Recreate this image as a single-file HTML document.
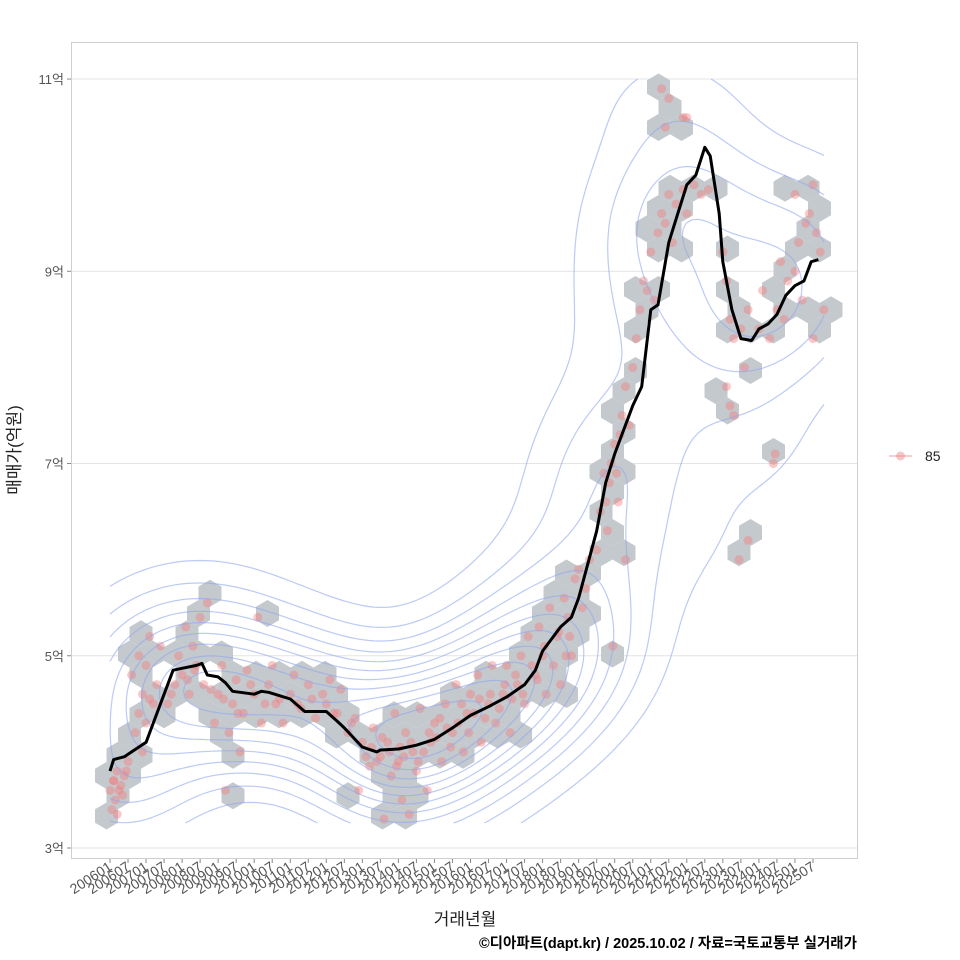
<!DOCTYPE html>
<html><head><meta charset="utf-8"><style>
body{margin:0;background:#fff;}
svg{display:block;font-family:"Liberation Sans","Noto Sans CJK KR",sans-serif;}
</style></head><body>
<svg id="chart" width="960" height="960" viewBox="0 0 960 960">
<defs><clipPath id="pclip"><rect x="72" y="43" width="785" height="815"/></clipPath></defs>
<rect x="0" y="0" width="960" height="960" fill="#fff"/>
<rect x="71.5" y="42.5" width="786" height="816" fill="#fff" stroke="#cfcfcf"/>
<g id="grid"></g>
<g id="hexes"></g>
<g id="pts"></g>
<g id="contours" clip-path="url(#pclip)"></g>
<g id="line"></g>
<g id="yaxis"></g>
<g id="xaxis"></g>
<text x="20" y="450" transform="rotate(-90 20 450)" text-anchor="middle" font-size="17" fill="#222">매매가(억원)</text>
<text x="465" y="925" text-anchor="middle" font-size="17" fill="#222">거래년월</text>
<text x="857" y="948" text-anchor="end" font-size="14.5" font-weight="bold" fill="#000">©디아파트(dapt.kr) / 2025.10.02 / 자료=국토교통부 실거래가</text>
<g>
<line x1="889" y1="456" x2="912" y2="456" stroke="#f4a0a8" stroke-width="1.5" opacity="0.7"/>
<circle cx="900.5" cy="456" r="4.5" fill="#f08080" fill-opacity="0.45"/>
<text x="925" y="461" font-size="14" fill="#222">85</text>
</g>
</svg>
<script>
const yTicks=[3,5,7,9,11];
const xTickYears=[];for(let y=2006;y<=2025;y++){xTickYears.push(y+'01');xTickYears.push(y+'07');}
const lineYears=[2006.0,2006.1,2006.4,2006.6,2007.0,2007.2,2007.5,2007.75,2008.0,2008.4,2008.55,2008.7,2009.0,2009.2,2009.4,2010.0,2010.2,2010.4,2011.0,2011.4,2012.0,2012.3,2012.5,2013.0,2013.4,2013.5,2014.0,2014.5,2015.0,2015.5,2016.0,2016.5,2017.0,2017.5,2017.8,2018.0,2018.5,2018.8,2019.0,2019.5,2019.75,2020.0,2020.5,2020.75,2021.0,2021.2,2021.5,2021.75,2022.0,2022.25,2022.5,2022.65,2022.9,2023.0,2023.25,2023.5,2023.8,2024.0,2024.25,2024.5,2024.75,2025.0,2025.25,2025.45,2025.65];
const lineValues=[3.8,3.92,3.95,4.0,4.1,4.3,4.6,4.85,4.87,4.9,4.92,4.8,4.78,4.72,4.63,4.6,4.63,4.62,4.55,4.42,4.42,4.32,4.25,4.05,4.0,4.02,4.03,4.07,4.13,4.25,4.38,4.47,4.57,4.7,4.85,5.05,5.3,5.4,5.6,6.3,6.8,7.1,7.6,7.8,8.6,8.65,9.3,9.6,9.9,10.0,10.29,10.2,9.6,9.1,8.6,8.3,8.28,8.4,8.45,8.55,8.75,8.85,8.9,9.1,9.12];
const ptYears=[2006.0,2006.05,2006.1,2006.15,2006.2,2006.3,2006.4,2006.5,2006.2,2006.35,2006.7,2006.8,2006.9,2007.0,2007.1,2006.6,2006.8,2007.0,2007.1,2007.3,2007.4,2006.9,2007.6,2007.8,2007.9,2008.0,2008.1,2008.2,2008.3,2008.4,2008.5,2008.6,2008.7,2009.2,2008.9,2009.0,2009.1,2009.3,2009.4,2009.5,2009.6,2009.7,2009.8,2010.0,2010.1,2010.2,2010.4,2010.5,2010.6,2010.8,2011.0,2011.1,2011.3,2011.5,2011.7,2011.9,2012.1,2012.2,2012.4,2012.6,2012.8,2012.9,2013.0,2013.2,2013.3,2013.5,2013.6,2013.7,2013.8,2013.9,2014.0,2014.1,2014.2,2014.3,2014.4,2014.5,2014.6,2014.8,2014.9,2015.0,2015.2,2015.3,2015.5,2015.6,2015.8,2015.9,2016.0,2016.2,2016.3,2016.5,2016.6,2016.7,2016.9,2017.0,2017.1,2017.3,2017.4,2017.5,2017.6,2017.8,2017.9,2018.0,2018.1,2018.2,2018.4,2018.5,2018.6,2018.7,2018.8,2018.9,2019.0,2019.1,2019.3,2019.95,2019.5,2019.6,2019.7,2019.8,2019.9,2020.0,2020.1,2020.2,2020.3,2020.3,2020.4,2020.5,2020.6,2020.7,2020.8,2020.9,2021.0,2021.1,2021.2,2021.3,2021.4,2021.5,2021.6,2021.7,2021.9,2022.0,2022.2,2022.4,2022.6,2021.3,2021.5,2021.9,2022.0,2021.4,2023.0,2023.1,2023.2,2023.3,2023.1,2023.3,2023.2,2023.5,2023.6,2023.7,2023.45,2023.7,2024.0,2024.1,2024.3,2024.5,2024.6,2024.4,2024.45,2024.7,2024.8,2025.0,2025.1,2025.0,2025.2,2025.3,2025.4,2025.5,2025.6,2025.5,2025.7,2025.8,
2006.1,2006.25,2006.45,2007.2,2007.7,2008.15,2008.35,2008.8,2009.15,2009.55,2009.9,2010.3,2010.7,2011.2,2011.6,2012.0,2012.3,2012.7,2013.1,2013.25,2013.4,2013.55,2013.75,2013.95,2014.05,2014.15,2014.35,2014.55,2014.7,2014.85,2015.05,2015.15,2015.35,2015.45,2015.65,2015.75,2015.95,2016.1,2016.25,2016.4,2016.55,2016.8,2016.95,2017.15,2017.25,2017.45,2017.7,2017.85,2018.05,2018.3,2018.45,2018.65,2018.75,2019.2,2019.75,2019.85,2020.05,2020.15];
const ptValues=[3.6,3.4,3.7,3.5,3.8,3.65,3.75,3.9,3.35,3.55,4.2,4.4,4.0,4.3,4.55,4.8,5.0,4.9,5.2,4.7,5.1,4.6,4.5,4.7,5.0,4.8,5.3,4.6,5.1,4.9,5.4,4.7,5.55,3.6,4.3,4.6,4.9,4.2,4.5,4.75,4.0,4.4,4.85,4.6,5.4,4.3,4.7,4.9,4.5,4.3,4.6,4.8,4.45,4.7,4.35,4.6,4.75,4.4,4.65,4.2,4.35,3.6,4.1,3.85,4.25,3.95,3.3,4.1,3.75,4.4,3.9,3.5,4.2,3.35,4.0,3.8,4.45,3.6,4.1,4.3,3.9,4.5,4.2,4.7,4.0,4.4,4.6,4.8,4.1,4.5,4.9,4.3,4.6,4.9,4.2,4.7,5.0,4.5,5.2,4.8,5.3,5.0,4.6,5.5,5.2,4.7,5.6,5.4,5.0,5.8,5.9,5.5,6.0,5.1,6.1,6.5,6.9,6.3,7.0,7.2,6.6,7.5,7.8,6.0,7.4,8.0,8.3,8.6,8.9,8.8,9.2,8.7,9.4,9.6,9.5,9.8,9.3,9.7,9.85,9.6,9.9,9.8,9.85,10.9,10.8,10.6,10.6,10.5,9.2,8.9,8.5,8.3,7.8,7.5,7.6,8.4,8.0,8.6,6.0,6.2,8.4,8.8,8.3,8.6,9.1,7.0,7.1,8.5,8.9,9.0,9.3,9.8,8.7,9.5,9.6,8.3,9.4,9.9,9.2,8.6,
3.7,3.6,3.8,4.5,4.6,4.75,4.85,4.65,4.55,4.4,4.7,4.5,4.55,4.5,4.55,4.5,4.4,4.3,3.95,4.05,3.9,4.15,4.0,3.85,4.05,3.95,4.1,3.9,4.0,4.2,4.15,4.35,4.25,4.05,4.3,4.5,4.2,4.4,4.55,4.35,4.6,4.45,4.7,4.55,4.8,4.6,4.9,4.75,5.1,4.9,5.25,5.0,5.2,5.7,6.6,6.8,6.9,7.3];

const NS='http://www.w3.org/2000/svg';
function mk(tag,attrs,parent){const e=document.createElementNS(NS,tag);for(const k in attrs)e.setAttribute(k,attrs[k]);parent.appendChild(e);return e;}
const X0=110,PXY=36.05;
function xs(yr){return X0+(yr-2006)*PXY;}
function ys(v){return 848-(v-3)*96.12;}

const grid=document.getElementById('grid'),yax=document.getElementById('yaxis');
yTicks.forEach(t=>{
  const g=mk('line',{x1:72,x2:857,y1:ys(t),y2:ys(t),stroke:'#e4e4e4','stroke-width':1},grid);
  
  
  const tk=mk('line',{x1:67,x2:71,y1:ys(t),y2:ys(t),stroke:'#888'},yax);
  
  
  const tx=mk('text',{x:64,y:ys(t)+5,'text-anchor':'end','font-size':13,fill:'#555'},yax);
  tx.textContent=t+'억';
  
  
});
const xax=document.getElementById('xaxis');
xTickYears.forEach((lab,i)=>{
  const x=xs(2006+i*0.5);
  const tk=mk('line',{x1:x,x2:x,y1:859,y2:863,stroke:'#888'},xax);
  
  
  const tx=mk('text',{x:x+3,y:869,'text-anchor':'end','font-size':14,fill:'#555',transform:`rotate(-33 ${x+3} 869)`},xax);
  tx.textContent=lab;
  
  
});

const HW=23,HR=13.5,RS=20.25,HX0=658.5,HY0=87;
const bins={};
ptYears.forEach((yr,i)=>{
  const px=xs(yr),py=ys(ptValues[i]);
  let best=null,bd=1e9;
  const r0=Math.round((py-HY0)/RS);
  for(let r=r0-1;r<=r0+1;r++){
    const off=(r&1)?HW/2:0;
    const c0=Math.round((px-HX0-off)/HW);
    for(let c=c0-1;c<=c0+1;c++){
      const cx=HX0+off+c*HW,cy=HY0+r*RS,d=(cx-px)**2+(cy-py)**2;
      if(d<bd){bd=d;best=[r,c,cx,cy];}
    }
  }
  bins[best[0]+'_'+best[1]]=best;
});
const hg=document.getElementById('hexes');
Object.values(bins).forEach(b=>{
  const [r,c,cx,cy]=b;let p='';
  for(let k=0;k<6;k++){const a=Math.PI/3*k+Math.PI/6;p+=(cx+HR*Math.cos(a)*0.985).toFixed(1)+','+(cy+HR*Math.sin(a)).toFixed(1)+' ';}
  const h=mk('polygon',{points:p,fill:'#c4c9ce'},hg);
  
  
});
const pg=document.getElementById('pts');
ptYears.forEach((yr,i)=>{
  const c=mk('circle',{cx:xs(yr),cy:ys(ptValues[i]),r:4.5,fill:'#f27c7c','fill-opacity':0.42},pg);
  
  
});
(function(){
  const x0=xs(2006),x1=xs(2025.75),y0=ys(11),y1=ys(3.3),st=6;
  const nx=Math.ceil((x1-x0)/st)+1,ny=Math.ceil((y1-y0)/st)+1;
  const bx=58,by=48;const Z=[];let mx=0;
  const P=ptYears.map((yr,i)=>[xs(yr),ys(ptValues[i])]);
  for(let j=0;j<ny;j++){Z.push([]);for(let i=0;i<nx;i++){const gx=x0+i*st,gy=y0+j*st;let s=0;for(const p of P){const dx=(gx-p[0])/bx,dy=(gy-p[1])/by;s+=Math.exp(-0.5*(dx*dx+dy*dy));}Z[j].push(s);if(s>mx)mx=s;}}
  const cg=document.getElementById('contours');
  for(let L=1;L<=11;L++){
    const lv=mx*L/12;let d='';
    for(let j=0;j<ny-1;j++)for(let i=0;i<nx-1;i++){
      const a=Z[j][i],b=Z[j][i+1],c=Z[j+1][i+1],e=Z[j+1][i];
      const gx=x0+i*st,gy=y0+j*st;
      const pts=[];
      const edge=(v1,v2,xA,yA,xB,yB)=>{if((v1>=lv)!==(v2>=lv)){const t=(lv-v1)/(v2-v1);pts.push([xA+(xB-xA)*t,yA+(yB-yA)*t]);}};
      edge(a,b,gx,gy,gx+st,gy);edge(b,c,gx+st,gy,gx+st,gy+st);edge(c,e,gx+st,gy+st,gx,gy+st);edge(e,a,gx,gy+st,gx,gy);
      for(let k=0;k+1<pts.length;k+=2)d+=`M${pts[k][0].toFixed(1)},${pts[k][1].toFixed(1)}L${pts[k+1][0].toFixed(1)},${pts[k+1][1].toFixed(1)}`;
    }
    const p=mk('path',{d:d,fill:'none',stroke:'#8fa6ee','stroke-width':1.2,'stroke-opacity':0.6},cg);
    
    
  }
})();
let d='';lineYears.forEach((yr,i)=>{d+=(i?'L':'M')+xs(yr).toFixed(1)+','+ys(lineValues[i]).toFixed(1);});
const ln=mk('path',{d:d,fill:'none',stroke:'#000','stroke-width':3,'stroke-linejoin':'round'},document.getElementById('line'));


</script>
</body></html>
